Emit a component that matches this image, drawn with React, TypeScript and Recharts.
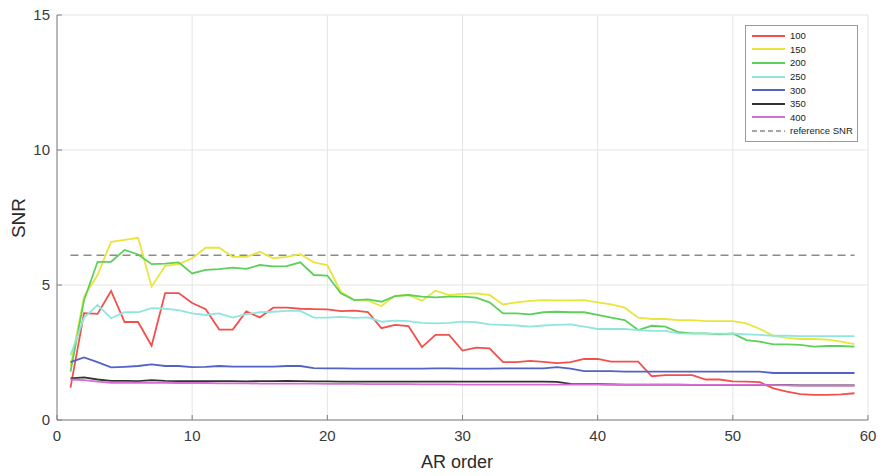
import {
  CartesianGrid,
  Label,
  Legend,
  Line,
  LineChart,
  ReferenceLine,
  XAxis,
  YAxis,
} from "recharts";

const AR_ORDER = Array.from({ length: 59 }, (_, i) => i + 1);

const SNR_100 = [
  1.2, 3.96, 3.93, 4.78, 3.63, 3.63, 2.75, 4.7, 4.7, 4.33,
  4.1, 3.35, 3.35, 4.02, 3.8, 4.16, 4.16, 4.12, 4.11, 4.1,
  4.03, 4.05, 4.0, 3.4, 3.52, 3.48, 2.7, 3.15, 3.15, 2.57,
  2.68, 2.65, 2.14, 2.14, 2.19, 2.15, 2.11, 2.14, 2.26, 2.26,
  2.16, 2.16, 2.16, 1.62, 1.66, 1.66, 1.66, 1.5, 1.5, 1.43,
  1.42, 1.4, 1.17, 1.05, 0.96, 0.93, 0.93, 0.95, 0.99,
];
const SNR_150 = [
  2.0, 4.57, 5.37, 6.6, 6.67, 6.75, 4.94, 5.71, 5.77, 5.99,
  6.38, 6.38, 6.04, 6.04, 6.23, 5.99, 6.04, 6.14, 5.84, 5.74,
  4.75, 4.44, 4.42, 4.22, 4.6, 4.63, 4.42, 4.79, 4.63, 4.67,
  4.69, 4.63, 4.28, 4.36, 4.41, 4.44, 4.43, 4.43, 4.44, 4.36,
  4.28, 4.16, 3.79, 3.74, 3.74, 3.7, 3.7, 3.66, 3.66, 3.66,
  3.58, 3.37, 3.12, 3.04, 3.0, 3.0, 2.98, 2.9, 2.81,
];
const SNR_200 = [
  1.79, 4.44, 5.86, 5.86, 6.3, 6.13, 5.77, 5.79, 5.84, 5.43,
  5.56, 5.59, 5.64, 5.6, 5.74, 5.69, 5.7, 5.84, 5.37, 5.35,
  4.69, 4.44, 4.47, 4.38, 4.59, 4.63, 4.57, 4.54, 4.57, 4.57,
  4.53, 4.36, 3.95, 3.95, 3.91, 3.99, 4.01, 3.99, 3.99, 3.89,
  3.79, 3.7, 3.33, 3.49, 3.46, 3.25, 3.21, 3.21, 3.17, 3.21,
  2.96, 2.9, 2.8, 2.8, 2.78, 2.72, 2.74, 2.74, 2.72,
];
const SNR_250 = [
  2.4, 3.79, 4.26, 3.77, 3.99, 3.99, 4.14, 4.12, 4.07, 3.95,
  3.89, 3.95, 3.79, 3.92, 3.99, 4.01, 4.04, 4.04, 3.79, 3.79,
  3.82, 3.78, 3.8, 3.64, 3.68, 3.66, 3.6, 3.58, 3.6, 3.64,
  3.62, 3.54, 3.52, 3.5, 3.46, 3.5, 3.52, 3.54, 3.46, 3.37,
  3.37, 3.37, 3.33, 3.3, 3.3, 3.21, 3.2, 3.2, 3.2, 3.2,
  3.17, 3.15, 3.12, 3.12, 3.11, 3.11, 3.11, 3.11, 3.11,
];
const SNR_300 = [
  2.14, 2.32, 2.14, 1.95, 1.97, 2.0, 2.06, 2.0, 2.0, 1.96,
  1.97, 2.0, 1.98, 1.98, 1.98, 1.98, 2.0, 2.0, 1.92, 1.91,
  1.91, 1.9, 1.9, 1.9, 1.9, 1.9, 1.9, 1.91, 1.91, 1.9,
  1.9, 1.9, 1.91, 1.91, 1.91, 1.91, 1.96, 1.9, 1.81, 1.81,
  1.81, 1.79, 1.79, 1.79, 1.79, 1.79, 1.79, 1.79, 1.79, 1.79,
  1.79, 1.79, 1.74, 1.74, 1.74, 1.74, 1.74, 1.74, 1.74,
];
const SNR_350 = [
  1.54, 1.58, 1.5, 1.45, 1.45, 1.44, 1.48, 1.45, 1.44, 1.44,
  1.44, 1.44, 1.44, 1.43, 1.44, 1.44, 1.45, 1.44, 1.43, 1.43,
  1.42, 1.42, 1.42, 1.42, 1.42, 1.42, 1.42, 1.42, 1.42, 1.42,
  1.42, 1.42, 1.42, 1.42, 1.42, 1.42, 1.41, 1.34, 1.33, 1.33,
  1.32, 1.31, 1.31, 1.31, 1.31, 1.31, 1.3, 1.3, 1.3, 1.3,
  1.3, 1.3, 1.29, 1.29, 1.28, 1.28, 1.28, 1.28, 1.28,
];
const SNR_400 = [
  1.5, 1.48, 1.42, 1.38, 1.38, 1.38, 1.38, 1.38, 1.37, 1.37,
  1.37, 1.36, 1.36, 1.36, 1.35, 1.35, 1.35, 1.35, 1.35, 1.34,
  1.34, 1.34, 1.33, 1.33, 1.33, 1.33, 1.32, 1.32, 1.32, 1.31,
  1.31, 1.31, 1.31, 1.31, 1.31, 1.31, 1.31, 1.31, 1.31, 1.31,
  1.3, 1.3, 1.3, 1.3, 1.3, 1.3, 1.3, 1.3, 1.3, 1.3,
  1.3, 1.3, 1.29, 1.28, 1.27, 1.27, 1.27, 1.27, 1.27,
];

const REFERENCE_SNR = 6.1;
const X_TICKS = [0, 10, 20, 30, 40, 50, 60];
const Y_TICKS = [0, 5, 10, 15];

const SERIES = [
  { key: "s100", name: "100", values: SNR_100, color: "#f2504c" },
  { key: "s150", name: "150", values: SNR_150, color: "#e8e63c" },
  { key: "s200", name: "200", values: SNR_200, color: "#5cd05a" },
  { key: "s250", name: "250", values: SNR_250, color: "#90e6de" },
  { key: "s300", name: "300", values: SNR_300, color: "#5262c6" },
  { key: "s350", name: "350", values: SNR_350, color: "#333333" },
  { key: "s400", name: "400", values: SNR_400, color: "#d56fd5" },
];
const REF_COLOR = "#8a8a8a";

const data = AR_ORDER.map((order, i) => {
  const row: Record<string, number> = { order };
  SERIES.forEach((s) => {
    row[s.key] = s.values[i];
  });
  return row;
});

const FONT = '"Liberation Sans", Arial, Helvetica, sans-serif';

function LegendBox() {
  const rows = [
    ...SERIES.map((s) => ({ name: s.name, color: s.color, dashed: false })),
    { name: "reference SNR", color: REF_COLOR, dashed: true },
  ];
  return (
    <div
      style={{
        border: "1px solid #9a9a9a",
        background: "#fff",
        padding: "3px 4px 3px 6px",
        boxSizing: "border-box",
        fontFamily: FONT,
        fontSize: 9.5,
        color: "#222",
      }}
    >
      {rows.map((r) => (
        <div
          key={r.name}
          style={{ display: "flex", alignItems: "center", height: 13.6 }}
        >
          <svg width={34} height={6} style={{ marginRight: 4 }}>
            <line
              x1={0}
              y1={3}
              x2={33}
              y2={3}
              stroke={r.color}
              strokeWidth={r.dashed ? 1.5 : 2}
              strokeDasharray={r.dashed ? "5 3" : undefined}
            />
          </svg>
          <span style={{ whiteSpace: "nowrap" }}>{r.name}</span>
        </div>
      ))}
    </div>
  );
}

export default function App() {
  return (
    <div style={{ position: "absolute", left: 0, top: 0, background: "#fff" }}>
      <LineChart
        width={882}
        height={476}
        data={data}
        margin={{ top: 15, right: 14, bottom: 0, left: 0 }}
        style={{ fontFamily: FONT }}
      >
        <CartesianGrid stroke="#e4e4e4" strokeWidth={1} />
        <XAxis
          dataKey="order"
          type="number"
          domain={[0, 60]}
          ticks={X_TICKS}
          height={56}
          stroke="#808080"
          tickSize={-5}
          tickMargin={15}
          tick={{ fill: "#3a3a3a", fontSize: 15 }}
        >
          <Label
            content={() => (
              <text
                x={457}
                y={462}
                textAnchor="middle"
                dominantBaseline="central"
                fontSize={18}
                fill="#2a2a2a"
                fontFamily={FONT}
              >
                AR order
              </text>
            )}
          />
        </XAxis>
        <YAxis
          type="number"
          domain={[0, 15]}
          ticks={Y_TICKS}
          width={57}
          stroke="#808080"
          tickSize={-5}
          tickMargin={12}
          tick={{ fill: "#3a3a3a", fontSize: 15 }}
        >
          <Label
            content={() => (
              <text
                x={18}
                y={218}
                transform="rotate(-90 18 218)"
                textAnchor="middle"
                dominantBaseline="central"
                fontSize={19}
                fill="#2a2a2a"
                fontFamily={FONT}
              >
                SNR
              </text>
            )}
          />
        </YAxis>
        <ReferenceLine
          segment={[
            { x: 1, y: REFERENCE_SNR },
            { x: 59, y: REFERENCE_SNR },
          ]}
          stroke={REF_COLOR}
          strokeWidth={1.5}
          strokeDasharray="8 5"
        />
        {SERIES.map((s) => (
          <Line
            key={s.key}
            dataKey={s.key}
            name={s.name}
            stroke={s.color}
            strokeWidth={1.8}
            dot={false}
            isAnimationActive={false}
          />
        ))}
        <Legend
          layout="horizontal"
          align="center"
          verticalAlign="middle"
          content={() => <LegendBox />}
          wrapperStyle={{ left: 745, top: 25, width: 113 }}
        />
      </LineChart>
    </div>
  );
}
